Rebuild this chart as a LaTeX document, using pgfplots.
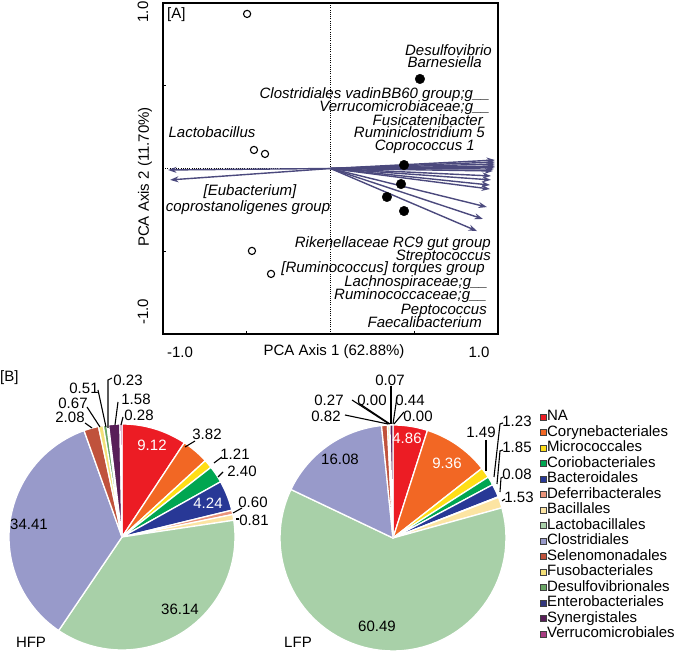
\documentclass[border=0pt]{standalone}
\usepackage{pgfplots}
\pgfplotsset{compat=1.18}
\usepackage{pgfplotstable}
\usepackage{fontspec}
\setmainfont{Liberation Sans}
\usetikzlibrary{arrows.meta}

\definecolor{arrowcol}{RGB}{75,73,125}
\definecolor{cNA}{RGB}{236,28,36}
\definecolor{cCory}{RGB}{242,103,36}
\definecolor{cMicro}{RGB}{255,222,23}
\definecolor{cCorio}{RGB}{0,166,81}
\definecolor{cBact}{RGB}{40,56,150}
\definecolor{cDefer}{RGB}{234,148,122}
\definecolor{cBacil}{RGB}{252,228,162}
\definecolor{cLacto}{RGB}{168,208,168}
\definecolor{cClost}{RGB}{152,154,202}
\definecolor{cSeleno}{RGB}{192,82,60}
\definecolor{cFuso}{RGB}{244,224,120}
\definecolor{cDesulf}{RGB}{105,165,100}
\definecolor{cEntero}{RGB}{50,55,125}
\definecolor{cSyner}{RGB}{88,30,88}
\definecolor{cVerru}{RGB}{168,60,130}

% HFP order composition (%), clockwise from 12 o'clock
\pgfplotstableread{
v c
9.12 cNA
3.82 cCory
1.21 cMicro
2.40 cCorio
4.24 cBact
0.60 cDefer
0.81 cBacil
36.14 cLacto
34.41 cClost
2.08 cSeleno
0.67 cFuso
0.51 cDesulf
0.23 cEntero
1.58 cSyner
0.28 cVerru
}\hfptab

% LFP order composition (%)
\pgfplotstableread{
v c
4.86 cNA
9.36 cCory
1.49 cMicro
1.23 cCorio
1.85 cBact
0.08 cDefer
1.53 cBacil
60.49 cLacto
16.08 cClost
0.82 cSeleno
0.27 cFuso
0.00 cDesulf
0.07 cEntero
0.44 cSyner
0.00 cVerru
}\lfptab

% PCA arrows (loadings)
\pgfplotstableread{
x y u v
0 0 0.982 0.051
0 0 0.982 0.039
0 0 0.982 0.027
0 0 0.982 0.015
0 0 0.982 0.009
0 0 0.976 -0.003
0 0 0.970 -0.015
0 0 0.958 -0.045
0 0 0.958 -0.069
0 0 0.952 -0.100
0 0 0.952 -0.124
0 0 0.934 -0.233
0 0 0.910 -0.305
0 0 0.875 -0.378
0 0 -0.970 -0.009
0 0 -0.958 -0.069
}\arrowtab

\newcommand\drawpie[1]{%
  \pgfplotstablegetrowsof{#1}%
  \pgfmathtruncatemacro\nrows{\pgfplotsretval-1}%
  \def\tot{0}%
  \pgfplotsforeachungrouped \ii in {0,...,\nrows}{%
    \pgfplotstablegetelem{\ii}{v}\of{#1}%
    \pgfmathsetmacro\tot{\tot+\pgfplotsretval}%
  }%
  \def\cum{0}%
  \pgfplotsforeachungrouped \ii in {0,...,\nrows}{%
    \pgfplotstablegetelem{\ii}{v}\of{#1}\let\val\pgfplotsretval
    \pgfplotstablegetelem{\ii}{c}\of{#1}\let\col\pgfplotsretval
    \pgfmathsetmacro\angA{90-(\cum/\tot)*360}%
    \pgfmathsetmacro\cum{\cum+\val}%
    \pgfmathsetmacro\angB{90-(\cum/\tot)*360}%
    \ifdim\val pt>0pt
      \edef\doit{\noexpand\addplot[forget plot, fill=\col, draw=white, line width=1.3bp, line join=round, domain=\angB:\angA, samples=60] ({cos(x)},{sin(x)}) -- (axis cs:0,0) -- cycle;}%
      \doit
    \fi
  }%
}

\begin{document}
\begin{tikzpicture}[font=\fontsize{15bp}{18bp}\selectfont]
\useasboundingbox (0,0) rectangle (675bp,652bp);

% ---------------- PCA biplot ----------------
\begin{axis}[at={(163bp,318bp)}, anchor=south west, scale only axis,
  width=335bp, height=331bp,
  xmin=-1, xmax=1, ymin=-1, ymax=1,
  xtick={-0.5,0.5}, ytick={-0.5,0.5}, xticklabels={}, yticklabels={},
  tick pos=left, tick align=inside, major tick length=3bp,
  tick style={black, line width=0.8bp},
  axis line style={line width=1.2bp}, clip=false]
\addplot[black, line width=1bp, dash pattern=on 1bp off 1.2bp] coordinates {(0,-1) (0,1)};
\addplot[black, line width=1bp, dash pattern=on 1bp off 1.2bp] coordinates {(-1,0) (0,0)};
\addplot[arrowcol, line width=1.4bp, -{Stealth[length=8.5bp,width=6bp]},
  quiver={u=\thisrow{u}, v=\thisrow{v}}] table {\arrowtab};
\addplot[only marks, mark=o, mark size=3.6bp, mark options={line width=1.1bp, black}] coordinates {
(-0.498,0.934) (-0.457,0.112) (-0.391,0.088) (-0.469,-0.498) (-0.355,-0.637)};
\addplot[only marks, mark=*, mark size=4.8bp, mark options={black}] coordinates {
(0.534,0.541) (0.439,0.021) (0.421,-0.094) (0.337,-0.172) (0.439,-0.257)};
\end{axis}

% ---------------- HFP pie ----------------
\begin{axis}[at={(9bp,2bp)}, anchor=south west, scale only axis,
  width=226bp, height=226bp, xmin=-1, xmax=1, ymin=-1, ymax=1,
  hide axis, clip=false]
\drawpie{\hfptab}
\end{axis}

% ---------------- LFP pie + legend ----------------
\begin{axis}[at={(280bp,1bp)}, anchor=south west, scale only axis,
  width=226bp, height=226bp, xmin=-1, xmax=1, ymin=-1, ymax=1,
  hide axis, clip=false, legend cell align=left,
  legend image code/.code={\draw[#1, draw=black!75, line width=0.5bp] (0bp,-3bp) rectangle (6bp,3bp);},
  legend style={at={(1.148,1.0697)}, anchor=north west, draw=none, fill=none,
    inner sep=0pt, font=\fontsize{15bp}{15bp}\selectfont,
    row sep=0pt, column sep=0.5bp,
    nodes={inner sep=0.5bp, text height=11bp, text depth=3.5bp}}]
\drawpie{\lfptab}
\addlegendimage{fill=cNA}\addlegendentry{NA}
\addlegendimage{fill=cCory}\addlegendentry{Corynebacteriales}
\addlegendimage{fill=cMicro}\addlegendentry{Micrococcales}
\addlegendimage{fill=cCorio}\addlegendentry{Coriobacteriales}
\addlegendimage{fill=cBact}\addlegendentry{Bacteroidales}
\addlegendimage{fill=cDefer}\addlegendentry{Deferribacterales}
\addlegendimage{fill=cBacil}\addlegendentry{Bacillales}
\addlegendimage{fill=cLacto}\addlegendentry{Lactobacillales}
\addlegendimage{fill=cClost}\addlegendentry{Clostridiales}
\addlegendimage{fill=cSeleno}\addlegendentry{Selenomonadales}
\addlegendimage{fill=cFuso}\addlegendentry{Fusobacteriales}
\addlegendimage{fill=cDesulf}\addlegendentry{Desulfovibrionales}
\addlegendimage{fill=cEntero}\addlegendentry{Enterobacteriales}
\addlegendimage{fill=cSyner}\addlegendentry{Synergistales}
\addlegendimage{fill=cVerru}\addlegendentry{Verrucomicrobiales}
\end{axis}

% ---------------- texts (pixel coordinates, y downward) ----------------
\begin{scope}[x=1bp, y=-1bp, shift={(0bp,652bp)}]
% PCA axis texts
\node[anchor=west, inner sep=0] at (167,15) {[A]};
\node at (180,352) {-1.0};
\node at (479,352) {1.0};
\node at (334,352) {PCA Axis 1 (62.88\%)};
\node[rotate=90] at (143,12) {1.0};
\node[rotate=90] at (143,312) {-1.0};
\node[rotate=90] at (145,177) {PCA Axis 2 (11.70\%)};
% species labels
\begin{scope}[every node/.style={anchor=base east, inner sep=0, font=\fontsize{15bp}{18bp}\selectfont\itshape}]
\node at (492,56) {Desulfovibrio};
\node at (482,68) {Barnesiella};
\node at (490,99) {Clostridiales vadinBB60 group;g\_\_};
\node at (490,112) {Verrucomicrobiaceae;g\_\_};
\node at (483,126) {Fusicatenibacter};
\node at (485,138) {Ruminiclostridium 5};
\node at (475,151) {Coprococcus 1};
\node at (491,248) {Rikenellaceae RC9 gut group};
\node at (491,261) {Streptococcus};
\node at (485,273) {[Ruminococcus] torques group};
\node at (488,287) {Lachnospiraceae;g\_\_};
\node at (487,300) {Ruminococcaceae;g\_\_};
\node at (487,315) {Peptococcus};
\node at (482,328) {Faecalibacterium};
\node[anchor=base] at (212,138) {Lactobacillus};
\node[anchor=base] at (250,196) {[Eubacterium]};
\node[anchor=base] at (248,212) {coprostanoligenes group};
\end{scope}

% panel B
\node[anchor=west, inner sep=0] at (0,378) {[B]};
\node at (31,642) {HFP};
\node at (298,642) {LFP};

% HFP slice labels
\node[white] at (152,445) {9.12};
\node[white] at (208,503) {4.24};
\node at (29,524) {34.41};
\node at (180,609) {36.14};
\node at (207,434) {3.82};
\node at (235,454) {1.21};
\node at (242,471) {2.40};
\node at (253,502) {0.60};
\node at (254,520) {0.81};
\node at (70,417) {2.08};
\node at (73,403) {0.67};
\node at (84,388) {0.51};
\node at (128,380) {0.23};
\node at (136,399) {1.58};
\node at (139,415) {0.28};
\begin{scope}[line width=1.1bp]
\draw (85,423) -- (92,428);
\draw (87,407) -- (100,427);
\draw (98,390) -- (106,427);
\draw (112,378) -- (108,380) -- (108,428);
\draw (118,402) -- (115,425);
\draw (123,417) -- (121,425);
\draw (195,441) -- (185,447);
\draw (222,457) -- (214,463);
\draw (223,472) -- (218,477);
\draw (242,508) -- (233,513);
\draw (236,519) -- (239,519);
\end{scope}

% LFP slice labels
\node[white] at (407,438) {4.86};
\node[white] at (447,463) {9.36};
\node at (340,459) {16.08};
\node at (377,626) {60.49};
\node at (326,416) {0.82};
\node at (329,400) {0.27};
\node at (372,400) {0.00};
\node at (390,380) {0.07};
\node at (410,400) {0.44};
\node at (418,416) {0.00};
\node at (481,432) {1.49};
\node at (517,421) {1.23};
\node at (517,447) {1.85};
\node at (517,474) {0.08};
\node at (519,497) {1.53};
\begin{scope}[line width=1.1bp]
\draw (345,415) -- (388,424);
\draw (352,400) -- (389,424);
\draw (360,404) -- (390,424);
\draw (391,386) -- (391,424);
\draw (397,397) -- (393,424);
\draw (404,412) -- (394,424);
\draw (486,440) -- (486,471);
\draw (503,423) -- (500,424) -- (494,477);
\draw (503,450) -- (500,451) -- (497,484);
\draw (503,477) -- (501,478) -- (500,492);
\draw (505,499) -- (502,501);
\end{scope}
\end{scope}
\end{tikzpicture}
\end{document}
